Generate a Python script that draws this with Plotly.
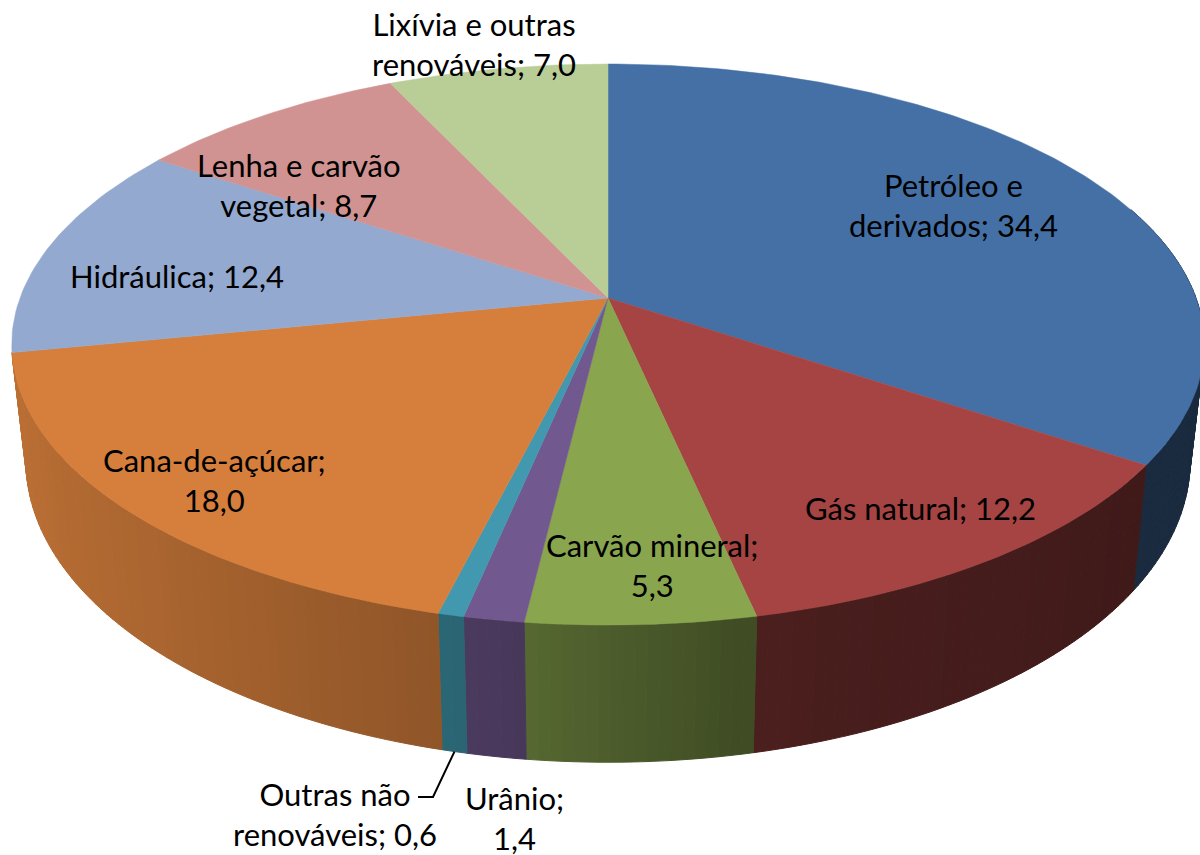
import numpy as np
import plotly.graph_objects as go

categories = ["Petróleo e derivados", "Gás natural", "Carvão mineral", "Urânio",
              "Outras não renováveis", "Cana-de-açúcar", "Hidráulica",
              "Lenha e carvão vegetal", "Lixívia e outras renováveis"]
values = [34.4, 12.2, 5.3, 1.4, 0.6, 18.0, 12.4, 8.7, 7.0]
value_labels = ["34,4", "12,2", "5,3", "1,4", "0,6", "18,0", "12,4", "8,7", "7,0"]
label_lines = ["Petróleo e<br>derivados; {}", "Gás natural; {}", "Carvão mineral;<br>{}",
               "Urânio;<br>{}", "Outras não<br>renováveis; {}", "Cana-de-açúcar;<br>{}",
               "Hidráulica; {}", "Lenha e carvão<br>vegetal; {}", "Lixívia e outras<br>renováveis; {}"]
label_x = [953, 920, 652, 514, 335, 214, 177, 299, 474]
label_y = [205, 508, 565, 818, 814, 480, 276, 185, 44]
colors = ["#4470a6", "#a54442", "#89a54e", "#71588f", "#4198af", "#d67f3c", "#93a9cf", "#d19392", "#b9cd96"]

# perspective view of the pie
CX, CY = 608, 298
A_TOP, B_TOP, CY_TOP = 588, 272.8, 298
A_BOT, B_BOT, CY_BOT = 574, 293, 411
K = 0.1658


def project(theta, A, B, cy):
    u, v = np.sin(theta), -np.cos(theta)
    d = 1 - K * v
    return CX + A * u / d, cy + B * v / d


def shade(hex_color, f):
    r, g, b = (int(hex_color[i:i + 2], 16) for i in (1, 3, 5))
    return f"rgb({r * f:.0f},{g * f:.0f},{b * f:.0f})"


def side_factor(u):
    return float(np.interp(u, [-1, -0.2, -0.1, 0, 0.1, 0.2, 0.3, 0.85, 1],
                           [0.88, 0.66, 0.62, 0.56, 0.51, 0.46, 0.44, 0.38, 0.38]))


edges = np.cumsum([0] + values) / sum(values) * 2 * np.pi
fig = go.Figure()

# side wall, drawn as narrow strips over the front half of the pie
for i, color in enumerate(colors[:6]):
    lo, hi = max(edges[i], np.radians(70)), edges[i + 1]
    n = max(1, int(np.degrees(hi - lo)))
    th = np.linspace(lo, hi, n + 1)
    for a, b in zip(th[:-1], th[1:]):
        seg = np.array([a, b])
        x1, y1 = project(seg, A_TOP, B_TOP, CY_TOP)
        x2, y2 = project(seg[::-1], A_BOT, B_BOT, CY_BOT)
        c = shade(color, side_factor(np.sin((a + b) / 2)))
        fig.add_trace(go.Scatter(x=np.r_[x1, x2, x1[0]], y=np.r_[y1, y2, y1[0]], mode="lines",
                                 fill="toself", fillcolor=c, line=dict(color=c, width=1), hoverinfo="skip"))

# top face
for i, color in enumerate(colors):
    th = np.linspace(edges[i], edges[i + 1], max(3, int(np.degrees(edges[i + 1] - edges[i]))))
    x, y = project(th, A_TOP, B_TOP, CY_TOP)
    fig.add_trace(go.Scatter(x=np.r_[CX, x, CX], y=np.r_[CY, y, CY], mode="lines", fill="toself",
                             fillcolor=color, line=dict(color=color, width=0.5), name=categories[i],
                             hoverinfo="name"))

# leader line of the small slice
mid = (edges[4] + edges[5]) / 2
lx, ly = project(np.array([mid]), A_BOT, B_BOT, CY_BOT)
fig.add_trace(go.Scatter(x=[lx[0], 433, 418], y=[ly[0], 797, 797], mode="lines",
                         line=dict(color="black", width=2), hoverinfo="skip"))

for t, v, x, y in zip(label_lines, value_labels, label_x, label_y):
    fig.add_annotation(x=x, y=y, text=t.format(v), showarrow=False, xanchor="center", yanchor="middle",
                       align="center", font=dict(family="Lato", size=31, color="black"))

fig.update_layout(width=1200, height=855, margin=dict(l=0, r=0, t=0, b=0), showlegend=False,
                  paper_bgcolor="white", plot_bgcolor="white",
                  xaxis=dict(range=[0, 1200], visible=False, fixedrange=True),
                  yaxis=dict(range=[855, 0], visible=False, fixedrange=True))
fig.write_html("out.html", config={"displayModeBar": False},
               post_script="document.body.style.margin='0';document.body.style.overflow='hidden';")
